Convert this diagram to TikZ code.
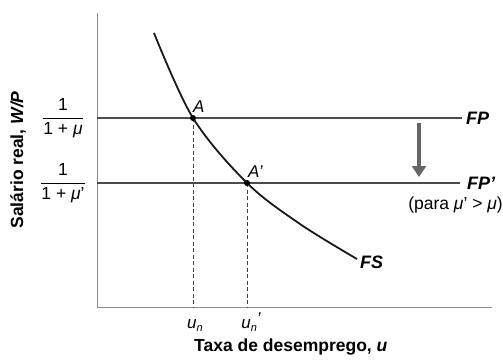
\documentclass[tikz,border=0pt]{standalone}
\usepackage{fontspec}
\setmainfont{Liberation Sans}
\usetikzlibrary{arrows.meta}
\begin{document}
\begin{tikzpicture}[x=1pt,y=1pt,
  axisline/.style={draw=black!45, line width=0.9pt},
  fpline/.style={draw=black!70, line width=1.6pt},
  fscurve/.style={draw=black!90, line width=1.8pt},
  guide/.style={draw=black!75, line width=0.8pt, dash pattern=on 4pt off 2.5pt},
  dot/.style={circle, fill=black, inner sep=0pt, minimum size=6pt},
  curvelab/.style={font=\fontsize{18}{20}\selectfont\bfseries\itshape, inner sep=1pt},
  ptlab/.style={font=\fontsize{17}{18}\selectfont\itshape, inner sep=0pt},
  axlab/.style={font=\fontsize{17.5}{19}\selectfont\bfseries, inner sep=0pt},
  fraclab/.style={font=\fontsize{17.5}{19}\selectfont, inner sep=0pt},
  shiftarrow/.style={draw=black!60, line width=4.5pt, -{Triangle[width=14pt,length=11pt]}}
]
\useasboundingbox (0,0) rectangle (503,360);
\fill[white] (0,0) rectangle (503,360);

% axes
\coordinate (O) at (97,53);
\coordinate (ytop) at (97,347);
\coordinate (xend) at (492,53);
\draw[axisline] (ytop) -- (O) -- (xend);

% FP lines
\coordinate (fp0) at (97,242);
\coordinate (fp1) at (462,242);
\coordinate (fq0) at (97,177);
\coordinate (fq1) at (460,177);
\draw[fpline] (fp0) -- (fp1);
\draw[fpline] (fq0) -- (fq1);

% points
\coordinate (A) at (193,242);
\coordinate (A2) at (247,177);
\coordinate (un) at (193,53);
\coordinate (un2) at (247,53);
\draw[guide] (A) -- (un);
\draw[guide] (A2) -- (un2);

% FS curve
\coordinate (fs0) at (154,327);
\coordinate (fs3) at (300,136);
\coordinate (fs4) at (357,101);
\draw[fscurve] plot[smooth, tension=0.55] coordinates {(fs0) (A) (A2) (fs3) (fs4)};

\node[dot] (Adot) at (A) {};
\node[dot] (A2dot) at (A2) {};

% labels
\node[ptlab, anchor=south west] (Alab) at (193,247) {A};
\node[ptlab, anchor=south west] (A2lab) at (248,182) {A'};
\node[curvelab, anchor=west] (FPlab) at (465,242) {FP};
\node[curvelab, anchor=west] (FP2lab) at (466,177) {FP'};
\node[fraclab, anchor=east] (paralab) at (503,155) {(para \textit{μ}' > \textit{μ})};
\node[curvelab, anchor=west] (FSlab) at (359,98) {FS};

% shift arrow
\coordinate (arrtop) at (419,237);
\coordinate (arrbot) at (419,183);
\draw[shiftarrow] (arrtop) -- (arrbot);

% fractions
\node[fraclab] (frac1) at (63,242) {$\displaystyle\frac{\mbox{1}}{\mbox{1 + \textit{μ}}}$};
\node[fraclab] (frac2) at (63,177) {$\displaystyle\frac{\mbox{1}}{\mbox{1 + \textit{μ}'}}$};

% axis tick labels
\node[ptlab, anchor=base] (unlab) at (195,32) {\textit{u}\raisebox{-3pt}{\fontsize{11}{12}\selectfont\textit{n}}};
\node[ptlab, anchor=base] (un2lab) at (251,32) {\textit{u}\raisebox{-3pt}{\fontsize{11}{12}\selectfont\textit{n}}\raisebox{4pt}{'}};

% axis labels
\node[axlab, anchor=base west] (xlab) at (194,9) {Taxa de desemprego, \textit{u}};
\node[axlab, rotate=90] (ylab) at (18,200) {Salário real, \textit{W/P}};
\end{tikzpicture}
\end{document}
